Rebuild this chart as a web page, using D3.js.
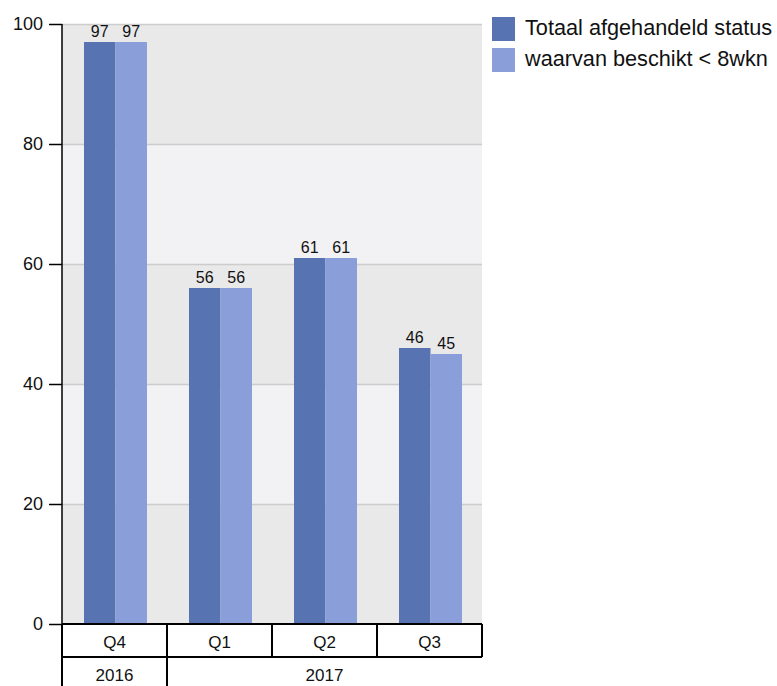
<!DOCTYPE html>
<html><head><meta charset="utf-8">
<script src="https://cdn.jsdelivr.net/npm/d3@7"></script>
<style>body{margin:0;background:#fff}svg{display:block;font-family:"Liberation Sans",Arial,sans-serif}</style>
</head><body><svg id="c" width="777" height="686"></svg>
<script>
const quarters = ["Q4","Q1","Q2","Q3"];
const years = [{label:"2016", span:1},{label:"2017", span:3}];
const seriesNames = ["Totaal afgehandeld status","waarvan beschikt < 8wkn"];
const totaal = [97,56,61,46];
const beschikt = [97,56,61,45];
const yTicks = [0,20,40,60,80,100];
const colors = ["#5873b1","#8a9fda"];

const svg = d3.select("#c");
const L=62, R=482, T=24, B=624;
const x = d3.scaleBand().domain(quarters).range([L,R]).paddingInner(0).paddingOuter(0);
const y = d3.scaleLinear().domain([0,100]).range([B,T]);
const inner = d3.scaleBand().domain([0,1]).range([0,63]);
const off = 22;

// bands
for(let i=0;i<yTicks.length-1;i++){
  svg.append("rect").attr("x",L).attr("width",R-L)
    .attr("y",y(yTicks[i+1])).attr("height",y(yTicks[i])-y(yTicks[i+1]))
    .attr("fill", i%2===0 ? "#e9e9ea" : "#f2f2f4");
}
// grid
svg.selectAll(".grid").data(yTicks.filter(d=>d>0)).enter().append("line")
  .attr("x1",L).attr("x2",R).attr("y1",d=>y(d)+0.5).attr("y2",d=>y(d)+0.5)
  .attr("stroke","#cccccc").attr("stroke-width",1.5);

const series=[totaal,beschikt];
series.forEach((vals,si)=>{
  svg.selectAll(".b"+si).data(vals).enter().append("rect")
    .attr("x",(d,i)=>x(quarters[i])+off+inner(si))
    .attr("width",inner.bandwidth())
    .attr("y",d=>y(d)).attr("height",d=>B-y(d))
    .attr("fill",colors[si]);
  svg.selectAll(".l"+si).data(vals).enter().append("text")
    .attr("x",(d,i)=>x(quarters[i])+off+inner(si)+inner.bandwidth()/2)
    .attr("y",d=>y(d)-5).attr("text-anchor","middle")
    .attr("font-size",16).attr("fill","#111").text(d=>d);
});

// y axis
const ya = svg.append("g").attr("transform",`translate(${L},0)`)
  .call(d3.axisLeft(y).tickValues(yTicks).tickSize(13).tickPadding(6));
ya.select(".domain").attr("stroke","#000").attr("stroke-width",1.5).attr("d",`M0,${T}V${B}`);
ya.selectAll(".tick line").attr("stroke","#000").attr("stroke-width",1.5);
ya.selectAll(".tick text").attr("font-size",18).attr("fill","#111").attr("font-family","Liberation Sans, Arial, sans-serif");

// category axis
const g = svg.append("g").attr("stroke","#000").attr("stroke-width",2);
g.append("line").attr("x1",L).attr("x2",R).attr("y1",B).attr("y2",B);
g.append("line").attr("x1",L).attr("x2",R).attr("y1",657).attr("y2",657);
quarters.forEach(q=>{
  g.append("line").attr("x1",x(q)).attr("x2",x(q)).attr("y1",B).attr("y2",657);
});
g.append("line").attr("x1",R).attr("x2",R).attr("y1",B).attr("y2",657);
svg.selectAll(".ql").data(quarters).enter().append("text")
  .attr("x",d=>x(d)+x.bandwidth()/2).attr("y",648).attr("text-anchor","middle")
  .attr("font-size",17).attr("fill","#111").text(d=>d);
let idx=0;
years.forEach(yr=>{
  const x0 = x(quarters[idx]);
  const x1 = x(quarters[idx+yr.span-1])+x.bandwidth();
  g.append("line").attr("x1",x0).attr("x2",x0).attr("y1",657).attr("y2",686);
  svg.append("text").attr("x",(x0+x1)/2).attr("y",681).attr("text-anchor","middle")
    .attr("font-size",17).attr("fill","#111").text(yr.label);
  idx+=yr.span;
});

// legend
const lg = svg.selectAll(".lg").data(seriesNames).enter().append("g")
  .attr("transform",(d,i)=>`translate(492,${17+i*31})`);
lg.append("rect").attr("width",23).attr("height",24).attr("fill",(d,i)=>colors[i]);
lg.append("text").attr("x",33).attr("y",18).attr("font-size",21.7).attr("fill","#111").text(d=>d);
</script></body></html>
